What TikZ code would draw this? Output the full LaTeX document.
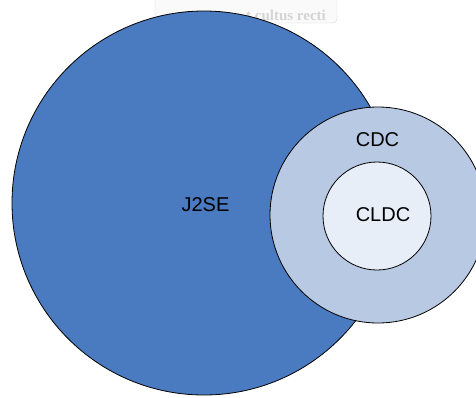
\documentclass[tikz,border=0pt]{standalone}
\usepackage{fontspec}
\setmainfont{Liberation Sans}
\newfontfamily\mottofont{Liberation Serif}
\definecolor{jblue}{HTML}{4A7AC0}
\definecolor{cdcblue}{HTML}{B8C9E3}
\definecolor{cldcblue}{HTML}{E8EEF8}
\definecolor{faint}{HTML}{D4D4D4}
\tikzset{
  ring/.style={circle, draw=black, line width=0.8pt, inner sep=0pt},
  lbl/.style={font=\fontsize{20}{24}\selectfont, text=black, inner sep=0pt}
}
\begin{document}
\begin{tikzpicture}[x=1pt, y=-1pt]
  \useasboundingbox (0,0) rectangle (476,397);
  \clip (0,0) rectangle (476,397);
  % faint banner behind the top of the picture
  \node (banner) [draw=faint, fill=gray!4, rounded corners=4pt, minimum width=182pt, minimum height=30pt, inner sep=0pt] at (246,8) {};
  \node (motto) [text=faint, font=\mottofont\bfseries\fontsize{15}{18}\selectfont, inner sep=0pt] at (286,15) {t cultus recti};
  % nested platform circles
  \node (j2se) [ring, fill=jblue, minimum size=384pt] at (204,203) {};
  \node (cdc)  [ring, fill=cdcblue, minimum size=216pt] at (378,215) {};
  \node (cldc) [ring, fill=cldcblue, minimum size=108pt] at (377,216) {};
  \node (j2seText) [lbl] at (205.5,205) {J2SE};
  \node (cdcText)  [lbl] at (377.5,140) {CDC};
  \node (cldcText) [lbl] at (383,215) {CLDC};
\end{tikzpicture}
\end{document}
